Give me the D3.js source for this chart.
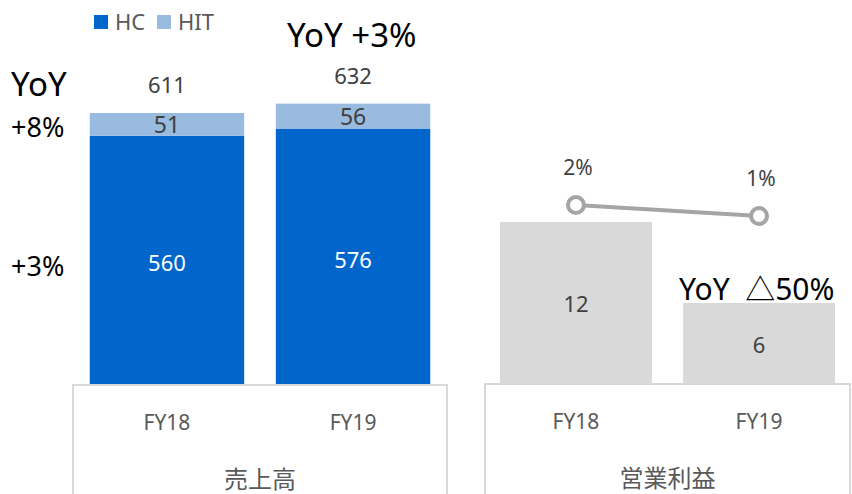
<!DOCTYPE html>
<html>
<head>
<meta charset="utf-8">
<script src="https://cdn.jsdelivr.net/npm/d3@7"></script>
<style>
  body { margin: 0; background: #fff; }
  svg { display: block; font-family: "Segoe UI", "Noto Sans", "Noto Sans CJK JP", sans-serif; }
</style>
</head>
<body>
<div id="chart"></div>
<script>
// Data
var years = ["FY18", "FY19"];
var hcValues = [560, 576];
var hitValues = [51, 56];
var totalValues = [611, 632];
var profitValues = [12, 6];
var marginValues = [2.0, 1.0];
var marginLabels = ["2%", "1%"];
var groupLabels = ["売上高", "営業利益"];

var svgWidth = 852;
var svgHeight = 494;

var svg = d3.select("#chart")
  .append("svg")
  .attr("width", svgWidth)
  .attr("height", svgHeight);

var textColor = "#404040";
var axisColor = "#d9d9d9";

// ---- Left panel: sales (stacked) ----
var xSales = d3.scaleBand()
  .domain(years)
  .range([73, 447])
  .paddingInner(0.17)
  .paddingOuter(0.09);

var ySales = d3.scaleLinear()
  .domain([0, 611])
  .range([385, 113]);

var salesRows = years.map(function(y, i) {
  return { year: y, hc: hcValues[i], hit: hitValues[i], total: totalValues[i] };
});

// HC bars
svg.selectAll(".hc")
  .data(salesRows)
  .enter().append("rect")
  .attr("x", d => xSales(d.year))
  .attr("width", xSales.bandwidth())
  .attr("y", d => ySales(d.hc))
  .attr("height", d => ySales(0) - ySales(d.hc))
  .attr("fill", "#0066cc");

// HIT bars
svg.selectAll(".hit")
  .data(salesRows)
  .enter().append("rect")
  .attr("x", d => xSales(d.year))
  .attr("width", xSales.bandwidth())
  .attr("y", d => ySales(d.hc + d.hit))
  .attr("height", d => ySales(d.hc) - ySales(d.hc + d.hit))
  .attr("fill", "#99bbe0");

// labels
svg.selectAll(".hcLabel")
  .data(salesRows)
  .enter().append("text")
  .attr("x", d => xSales(d.year) + xSales.bandwidth() / 2)
  .attr("y", d => (ySales(0) + ySales(d.hc)) / 2 + 11)
  .attr("text-anchor", "middle")
  .attr("font-size", 22)
  .attr("fill", "#ffffff")
  .text(d => d.hc);

svg.selectAll(".hitLabel")
  .data(salesRows)
  .enter().append("text")
  .attr("x", d => xSales(d.year) + xSales.bandwidth() / 2)
  .attr("y", d => (ySales(d.hc) + ySales(d.hc + d.hit)) / 2 + 9)
  .attr("text-anchor", "middle")
  .attr("font-size", 23)
  .attr("fill", textColor)
  .text(d => d.hit);

svg.selectAll(".totalLabel")
  .data(salesRows)
  .enter().append("text")
  .attr("x", d => xSales(d.year) + xSales.bandwidth() / 2)
  .attr("y", d => ySales(d.total) - 20)
  .attr("text-anchor", "middle")
  .attr("font-size", 22)
  .attr("fill", textColor)
  .text(d => d.total);

// ---- Right panel: operating profit ----
var xProfit = d3.scaleBand()
  .domain(years)
  .range([485, 850])
  .paddingInner(0.17)
  .paddingOuter(0.082);

var yProfit = d3.scaleLinear()
  .domain([0, 12])
  .range([384, 222]);

var yMargin = d3.scaleLinear()
  .domain([0, 2])
  .range([227, 205]);

svg.selectAll(".profit")
  .data(profitValues)
  .enter().append("rect")
  .attr("x", (d, i) => xProfit(years[i]))
  .attr("width", xProfit.bandwidth())
  .attr("y", d => yProfit(d))
  .attr("height", d => yProfit(0) - yProfit(d))
  .attr("fill", "#d9d9d9");

svg.selectAll(".profitLabel")
  .data(profitValues)
  .enter().append("text")
  .attr("x", (d, i) => xProfit(years[i]) + xProfit.bandwidth() / 2)
  .attr("y", d => (yProfit(0) + yProfit(d)) / 2 + 9)
  .attr("text-anchor", "middle")
  .attr("font-size", 22)
  .attr("fill", textColor)
  .text(d => d);

// margin line
var line = d3.line()
  .x((d, i) => xProfit(years[i]) + xProfit.bandwidth() / 2)
  .y(d => yMargin(d));

svg.append("path")
  .datum(marginValues)
  .attr("d", line)
  .attr("fill", "none")
  .attr("stroke", "#a5a5a5")
  .attr("stroke-width", 4);

svg.selectAll(".marker")
  .data(marginValues)
  .enter().append("circle")
  .attr("cx", (d, i) => xProfit(years[i]) + xProfit.bandwidth() / 2)
  .attr("cy", d => yMargin(d))
  .attr("r", 8)
  .attr("fill", "#ffffff")
  .attr("stroke", "#a5a5a5")
  .attr("stroke-width", 4);

svg.selectAll(".marginLabel")
  .data(marginValues)
  .enter().append("text")
  .attr("x", (d, i) => xProfit(years[i]) + xProfit.bandwidth() / 2 + 2)
  .attr("y", d => yMargin(d) - 30)
  .attr("text-anchor", "middle")
  .attr("font-size", 21)
  .attr("fill", textColor)
  .text((d, i) => marginLabels[i]);

// ---- category axes (multi-level boxes) ----
function drawAxis(x, base, label) {
  var r = x.range();
  var g = svg.append("g");
  g.append("path")
    .attr("d", "M" + r[0] + "," + svgHeight + "V" + base + "H" + r[1] + "V" + svgHeight)
    .attr("fill", "none")
    .attr("stroke", axisColor)
    .attr("stroke-width", 2);
  g.selectAll(".tick")
    .data(years)
    .enter().append("text")
    .attr("x", d => x(d) + x.bandwidth() / 2)
    .attr("y", base + 45)
    .attr("text-anchor", "middle")
    .attr("font-size", 21)
    .attr("fill", "#595959")
    .text(d => d);
  g.append("text")
    .attr("x", (r[0] + r[1]) / 2)
    .attr("y", base + 103)
    .attr("text-anchor", "middle")
    .attr("font-size", 24)
    .attr("fill", "#595959")
    .text(label);
}
drawAxis(xSales, 385, groupLabels[0]);
drawAxis(xProfit, 384, groupLabels[1]);

// ---- legend ----
var legend = [["HC", "#0066cc", 94], ["HIT", "#99bbe0", 157]];
legend.forEach(function(l) {
  svg.append("rect")
    .attr("x", l[2]).attr("y", 15)
    .attr("width", 14).attr("height", 14)
    .attr("fill", l[1]);
  svg.append("text")
    .attr("x", l[2] + 21).attr("y", 30)
    .attr("font-size", 22)
    .attr("fill", "#595959")
    .text(l[0]);
});

// ---- YoY annotations ----
function note(x, y, size, t) {
  svg.append("text")
    .attr("x", x).attr("y", y)
    .attr("font-size", size)
    .attr("fill", "#000000")
    .style("white-space", "pre")
    .text(t);
}
note(11, 96, 33, "YoY");
note(11, 137, 27, "+8%");
note(11, 276, 27, "+3%");
note(287, 47, 33, "YoY +3%");
note(679, 300, 30, "YoY  △50%");
</script>
</body>
</html>
